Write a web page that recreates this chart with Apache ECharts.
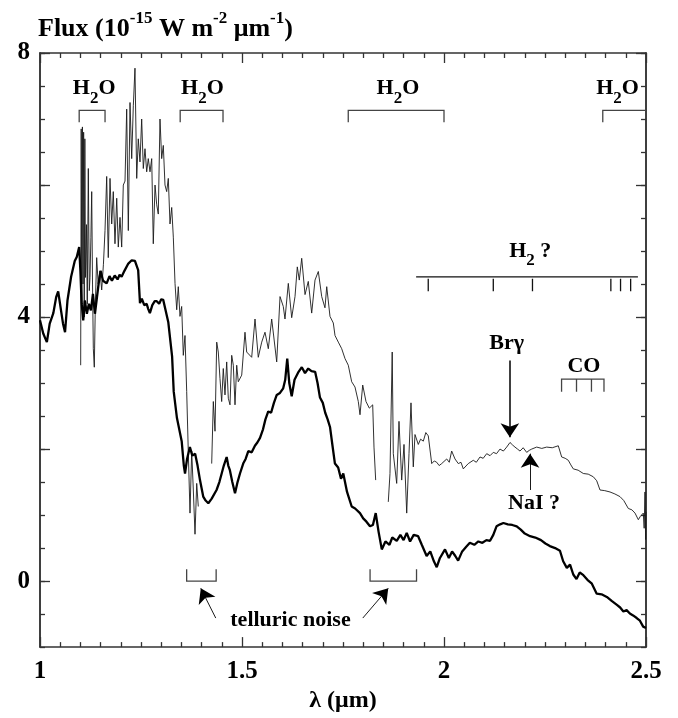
<!DOCTYPE html>
<html><head><meta charset="utf-8">
<script src="https://cdn.jsdelivr.net/npm/echarts@6/dist/echarts.min.js"></script>
<style>html,body{margin:0;padding:0;background:#fff}#c{width:678px;height:718px}</style>
</head><body><div id="c"></div>
<script>
// ---- data (wavelength in micron, flux in 1e-15 W m-2 um-1) ----
const thinSpectrum = [
[1.1007,3.27],[1.1020,6.85],[1.1035,4.20],[1.1050,6.88],[1.1065,4.50],[1.1080,6.80],[1.1095,4.00],[1.1110,6.70],[1.1125,4.60],[1.1150,5.40],[1.1170,4.20],[1.1196,6.25],[1.1220,4.40],[1.1238,4.60],[1.1260,5.20],[1.1280,5.90],[1.1300,4.50],[1.1320,3.52],[1.1344,3.24],[1.1370,4.20],[1.1403,4.90],[1.1440,4.50],[1.1485,4.70],[1.1527,4.41],[1.1570,4.80],[1.1609,5.31],[1.1651,6.13],[1.1690,4.90],[1.1733,6.10],[1.1775,5.41],[1.1814,5.90],[1.1856,5.11],[1.1899,5.80],[1.1938,5.06],[1.1980,5.51],[1.2022,5.06],[1.2062,6.00],[1.2104,6.06],[1.2146,7.15],[1.2186,5.31],[1.2228,7.25],[1.2270,6.40],[1.2310,7.20],[1.2351,7.77],[1.2394,6.10],[1.2433,6.70],[1.2475,6.35],[1.2517,7.00],[1.2557,6.25],[1.2599,6.55],[1.2641,6.20],[1.2680,6.40],[1.2723,6.20],[1.2765,6.40],[1.2804,5.11],[1.2847,6.00],[1.2889,5.70],[1.2928,5.56],[1.2970,7.00],[1.3012,6.40],[1.3052,6.60],[1.3094,6.00],[1.3136,5.90],[1.3176,6.10],[1.3218,5.41],[1.3260,5.66],[1.3300,5.21],[1.3342,4.51],[1.3384,4.11],[1.3423,4.46],[1.3465,4.01],[1.3507,4.16],[1.3547,3.42],[1.3589,3.72],[1.3631,2.87],[1.3670,1.97],[1.3713,1.03],[1.3755,1.97],[1.3795,1.38],[1.3837,0.71],[1.3879,1.48],[1.3918,1.13],[1.3960,null],
[1.4250,1.78],[1.4290,2.72],[1.4332,2.27],[1.4374,3.62],[1.4413,3.47],[1.4455,3.07],[1.4497,2.72],[1.4537,3.22],[1.4579,2.82],[1.4621,3.32],[1.4661,2.77],[1.4703,2.67],[1.4745,3.42],[1.4785,3.27],[1.4827,2.67],[1.4869,3.27],[1.4908,3.02],[1.4993,3.12],[1.5074,3.77],[1.5116,3.47],[1.5240,3.39],[1.5322,3.97],[1.5403,3.39],[1.5488,3.62],[1.5569,3.77],[1.5651,3.52],[1.5735,3.97],[1.5859,3.32],[1.5941,4.31],[1.6022,4.16],[1.6064,3.97],[1.6146,4.51],[1.6230,3.99],[1.6312,4.31],[1.6369,4.76],[1.6418,4.56],[1.6478,4.89],[1.6560,4.34],[1.6641,4.54],[1.6725,4.06],[1.6807,4.56],[1.6889,4.69],[1.6973,4.31],[1.7054,4.14],[1.7097,4.46],[1.7178,4.01],[1.7260,3.91],[1.7302,3.72],[1.7384,3.62],[1.7468,3.52],[1.7550,3.37],[1.7631,3.27],[1.7715,3.02],[1.7797,2.94],[1.7879,2.72],[1.7921,2.52],[1.7988,2.97],[1.8069,2.72],[1.8151,2.62],[1.8235,2.67],[1.8267,2.03],[1.8309,1.53],[1.8400,null],
[1.8621,1.20],[1.8663,1.63],[1.8718,3.47],[1.8745,1.93],[1.8829,1.48],[1.8886,2.42],[1.8953,1.53],[1.9010,2.07],[1.9077,1.03],[1.9134,1.93],[1.9183,2.70],[1.9240,1.73],[1.9282,2.22],[1.9364,2.07],[1.9420,2.15],[1.9488,2.12],[1.9550,2.25],[1.9611,2.20],[1.9696,1.78],[1.9760,1.82],[1.9819,1.80],[1.9880,1.75],[1.9943,1.78],[2.0067,1.85],[2.0130,1.80],[2.0190,1.97],[2.0272,1.85],[2.0354,1.78],[2.0420,1.80],[2.0478,1.70],[2.0601,1.78],[2.0725,1.83],[2.0800,1.80],[2.0891,1.88],[2.0970,1.86],[2.1057,1.93],[2.1140,1.90],[2.1220,1.95],[2.1300,1.93],[2.1386,2.00],[2.1470,1.97],[2.1552,2.03],[2.1634,2.10],[2.1700,2.06],[2.1757,2.03],[2.1820,2.00],[2.1881,1.97],[2.1960,2.02],[2.2047,1.95],[2.2110,1.98],[2.2171,2.00],[2.2294,2.03],[2.2420,2.01],[2.2542,2.03],[2.2680,2.02],[2.2829,2.05],[2.2870,2.03],[2.2913,1.88],[2.3000,1.86],[2.3077,1.83],[2.3140,1.76],[2.3200,1.70],[2.3320,1.68],[2.3448,1.63],[2.3570,1.62],[2.3696,1.58],[2.3780,1.52],[2.3861,1.38],[2.3980,1.37],[2.4109,1.35],[2.4230,1.32],[2.4356,1.28],[2.4450,1.22],[2.4562,1.10],[2.4650,1.08],[2.4728,1.03],[2.4810,0.93],[2.4860,0.98],[2.4933,1.03],[2.4955,0.80],[2.4975,1.35],[2.4990,0.63],[2.5000,1.05]
];
const thickSpectrum = [
[1.000,3.95],[1.008,3.75],[1.017,3.62],[1.024,3.90],[1.033,4.06],[1.040,4.30],[1.045,4.39],[1.052,4.10],[1.057,3.90],[1.062,3.77],[1.068,4.25],[1.077,4.61],[1.086,4.85],[1.091,4.91],[1.097,5.06],[1.100,4.70],[1.103,4.21],[1.107,3.95],[1.111,4.25],[1.116,4.05],[1.121,4.20],[1.126,4.10],[1.131,4.35],[1.136,4.05],[1.141,4.30],[1.146,4.55],[1.150,4.70],[1.156,4.55],[1.165,4.51],[1.172,4.62],[1.178,4.55],[1.185,4.63],[1.192,4.57],[1.197,4.64],[1.202,4.61],[1.209,4.70],[1.2186,4.81],[1.227,4.86],[1.235,4.85],[1.243,4.71],[1.2475,4.21],[1.252,4.28],[1.258,4.18],[1.264,4.20],[1.268,4.12],[1.272,4.06],[1.278,4.18],[1.284,4.24],[1.289,4.24],[1.295,4.20],[1.300,4.27],[1.305,4.26],[1.311,4.10],[1.3176,3.92],[1.322,3.92],[1.327,3.40],[1.331,2.87],[1.339,2.47],[1.3507,2.12],[1.356,1.75],[1.359,1.63],[1.364,1.85],[1.371,2.03],[1.377,1.90],[1.384,1.93],[1.390,1.75],[1.396,1.53],[1.404,1.28],[1.410,1.22],[1.4166,1.18],[1.425,1.25],[1.437,1.38],[1.444,1.50],[1.4497,1.63],[1.455,1.75],[1.462,1.88],[1.466,1.75],[1.470,1.68],[1.476,1.50],[1.4827,1.33],[1.489,1.50],[1.495,1.63],[1.503,1.78],[1.509,1.85],[1.5156,1.97],[1.524,1.95],[1.532,2.05],[1.538,2.10],[1.5446,2.17],[1.552,2.30],[1.558,2.45],[1.565,2.57],[1.572,2.55],[1.579,2.70],[1.586,2.82],[1.594,2.85],[1.602,2.92],[1.607,3.05],[1.612,3.37],[1.617,3.00],[1.623,2.80],[1.630,3.05],[1.640,3.17],[1.648,3.24],[1.656,3.15],[1.664,3.22],[1.672,3.18],[1.681,3.17],[1.687,3.00],[1.693,2.78],[1.700,2.70],[1.706,2.55],[1.712,2.45],[1.718,2.33],[1.724,2.05],[1.730,1.78],[1.738,1.72],[1.745,1.55],[1.7507,1.63],[1.760,1.35],[1.7715,1.13],[1.780,1.10],[1.792,1.03],[1.800,0.95],[1.808,0.90],[1.8168,0.83],[1.824,0.85],[1.831,1.03],[1.838,0.75],[1.846,0.48],[1.855,0.60],[1.865,0.55],[1.872,0.66],[1.883,0.61],[1.892,0.70],[1.900,0.62],[1.9077,0.73],[1.916,0.60],[1.925,0.70],[1.936,0.68],[1.945,0.55],[1.957,0.38],[1.966,0.45],[1.975,0.30],[1.982,0.21],[1.990,0.35],[2.0025,0.48],[2.012,0.35],[2.020,0.45],[2.028,0.38],[2.035,0.31],[2.045,0.45],[2.055,0.52],[2.064,0.58],[2.075,0.55],[2.085,0.60],[2.095,0.58],[2.105,0.62],[2.114,0.61],[2.122,0.70],[2.130,0.83],[2.139,0.86],[2.147,0.88],[2.158,0.86],[2.169,0.85],[2.180,0.83],[2.190,0.78],[2.200,0.72],[2.213,0.68],[2.226,0.66],[2.240,0.62],[2.251,0.57],[2.262,0.53],[2.275,0.50],[2.287,0.46],[2.295,0.30],[2.304,0.20],[2.312,0.25],[2.320,0.10],[2.328,0.03],[2.336,0.13],[2.345,0.09],[2.355,0.02],[2.366,-0.04],[2.378,-0.19],[2.390,-0.20],[2.403,-0.24],[2.415,-0.30],[2.428,-0.36],[2.436,-0.40],[2.444,-0.46],[2.452,-0.44],[2.460,-0.49],[2.468,-0.52],[2.477,-0.56],[2.485,-0.60],[2.493,-0.69],[2.500,-0.71]
];
const xLabelTicks = [1, 1.5, 2, 2.5];
const yLabelTicks = [0, 4, 8];
const yMajorTicks = [0, 2, 4, 6, 8];

// feature annotations (data units)
const h2oBands = [[1.097,1.161],[1.347,1.453],[1.763,2.000],[2.393,2.500]];
const h2Span = [1.931, 2.480];
const h2Lines = [1.961, 2.122, 2.219, 2.413, 2.437, 2.462];
const coLines = [2.291, 2.328, 2.365, 2.396];
const telluricBands = [[1.363,1.436],[1.817,1.932]];
const arrowFrom = [[2.163,3.34],[2.213,1.38],[1.435,-0.56],[1.799,-0.56]];
const arrowTo   = [[2.163,2.18],[2.213,1.93],[1.398,-0.11],[1.862,-0.11]];
const labelText = ['{m|H}{s|2}{m|O}','{m|H}{s|2}{m|O}','{m|H}{s|2}{m|O}','{m|H}{s|2}{m|O}',
                   '{m|H}{s|2}{m| ?}','{m|Brγ}','{m|CO}','{m|NaI ?}','{m|telluric noise}'];
const labelPos = [[1.134,7.46],[1.402,7.46],[1.886,7.46],[2.4295,7.46],
                  [2.2136,5.0],[2.155,3.60],[2.3465,3.26],[2.2228,1.18],[1.62,-0.60]];

// ---- build ----
const FONT = "'Liberation Serif','Times New Roman',serif";
const H2O_TOP = 7.13, H2O_LEG = 6.95, H2_Y = 4.61, H2_TICK = 4.39, CO_TOP = 3.06, CO_LEG = 2.87, TEL_BOT = 0, TEL_LEG = 0.18;

const brackets = [];
h2oBands.forEach(([a,b]) => {
  const c = [[a,H2O_LEG],[a,H2O_TOP],[b,H2O_TOP]];
  if (b < 2.5) c.push([b,H2O_LEG]);
  brackets.push({coords: c});
});
telluricBands.forEach(([a,b]) => brackets.push({coords: [[a,TEL_LEG],[a,TEL_BOT],[b,TEL_BOT],[b,TEL_LEG]]}));
brackets.push({coords: [[coLines[0],CO_LEG],[coLines[0],CO_TOP],[coLines[coLines.length-1],CO_TOP],[coLines[coLines.length-1],CO_LEG]]});
coLines.slice(1,-1).forEach(x => brackets.push({coords: [[x,CO_TOP],[x,CO_LEG]]}));

const h2Marks = [{coords: [[h2Span[0],H2_Y],[h2Span[1],H2_Y]]}];
h2Lines.forEach(x => h2Marks.push({coords: [[x,H2_Y-0.03],[x,H2_TICK]]}));

const arrowWidths = [1.5, 0.9, 0.9, 0.9];
const arrowData = arrowFrom.map((f,i) => ({coords: [f, arrowTo[i]], lineStyle: {width: arrowWidths[i]}}));

const toSeries = arr => arr.map(p => [p[0], p[1] === null ? '-' : p[1]]);

const axisLineStyle = {color: '#333', width: 1.5};
const tickStyle = {color: '#333', width: 1.3};
const labelStyle = {fontFamily: FONT, fontWeight: 'bold', fontSize: 25, color: '#000'};

function xAx(pos, showLabel) {
  return {
    type: 'value', position: pos, min: 1, max: 2.5, interval: 0.5,
    axisLine: {show: true, onZero: false, lineStyle: axisLineStyle},
    axisTick: {show: true, inside: true, length: 10, lineStyle: tickStyle},
    minorTick: {show: true, splitNumber: 10, length: 5, lineStyle: tickStyle},
    splitLine: {show: false}, minorSplitLine: {show: false},
    axisLabel: showLabel ? Object.assign({show: true, margin: 12, customValues: xLabelTicks}, labelStyle) : {show: false},
    name: showLabel ? 'λ (μm)' : '', nameLocation: 'middle', nameGap: 35,
    nameTextStyle: {fontFamily: FONT, fontWeight: 'bold', fontSize: 24, color: '#000'}
  };
}
function yAx(pos, major, showLabel) {
  return {
    type: 'value', position: pos, min: -1, max: 8, interval: 0.5,
    axisLine: {show: true, onZero: false, lineStyle: axisLineStyle},
    axisTick: major ? {show: true, inside: true, length: 10, customValues: yMajorTicks, lineStyle: tickStyle}
                    : {show: true, inside: true, length: 5, lineStyle: tickStyle},
    splitLine: {show: false},
    axisLabel: showLabel ? Object.assign({show: true, margin: 10, customValues: yLabelTicks}, labelStyle) : {show: false}
  };
}

const richM = {fontFamily: FONT, fontWeight: 'bold', fontSize: 22, color: '#000', lineHeight: 22, verticalAlign: 'top'};
const richS = {fontFamily: FONT, fontWeight: 'bold', fontSize: 17, color: '#000', lineHeight: 17, padding: [12,0,0,0], verticalAlign: 'top'};

const chart = echarts.init(document.getElementById('c'), null, {renderer: 'canvas'});
chart.setOption({
  animation: false,
  backgroundColor: '#fff',
  title: {
    text: '{m|Flux (10}{u|-15}{m| W m}{u|-2}{m| μm}{u|-1}{m|)}',
    left: 38, top: 10, padding: 0,
    textStyle: {rich: {
      m: {fontFamily: FONT, fontWeight: 'bold', fontSize: 26, color: '#000', lineHeight: 26, padding: [6,0,0,0], verticalAlign: 'top'},
      u: {fontFamily: FONT, fontWeight: 'bold', fontSize: 17, color: '#000', lineHeight: 17, verticalAlign: 'top'}
    }}
  },
  grid: {left: 40, right: 32, top: 53, bottom: 60, containLabel: false},
  xAxis: [xAx('bottom', true), xAx('top', false)],
  yAxis: [yAx('left', false, true), yAx('left', true, false), yAx('right', false, false), yAx('right', true, false)],
  series: [
    {type: 'line', name: 'thin', data: toSeries(thinSpectrum), showSymbol: false, connectNulls: false,
     lineStyle: {color: '#1a1a1a', width: 0.9}, silent: true},
    {type: 'line', name: 'thick', data: toSeries(thickSpectrum), showSymbol: false,
     lineStyle: {color: '#000', width: 2.3}, silent: true},
    {type: 'lines', coordinateSystem: 'cartesian2d', polyline: true, data: brackets,
     lineStyle: {color: '#444', width: 1.3, opacity: 1}, silent: true},
    {type: 'lines', coordinateSystem: 'cartesian2d', polyline: true, data: h2Marks,
     lineStyle: {color: '#111', width: 1.3, opacity: 1}, silent: true},
    {type: 'lines', coordinateSystem: 'cartesian2d', data: arrowData, symbol: ['none','arrow'], symbolSize: 14,
     lineStyle: {color: '#000', opacity: 1}, silent: true},
    {type: 'scatter', symbol: 'circle', symbolSize: 1, itemStyle: {color: 'transparent', opacity: 1}, silent: true,
     data: labelPos.map((p,i) => ({value: p, label: {formatter: labelText[i]}})),
     label: {show: true, position: 'inside', color: '#000', opacity: 1, rich: {m: richM, s: richS}}}
  ]
});
</script></body></html>
